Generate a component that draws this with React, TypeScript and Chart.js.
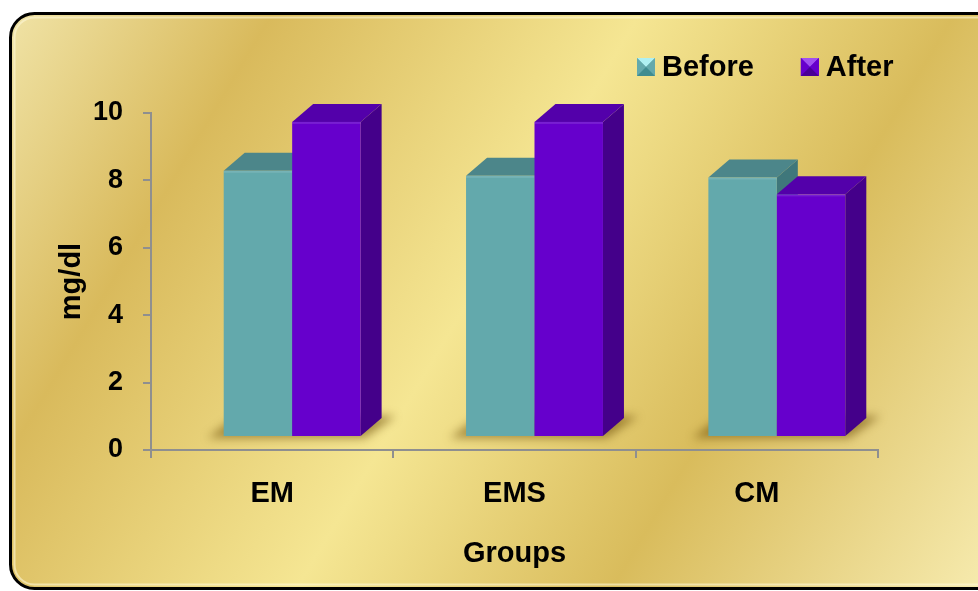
import React, { useEffect, useRef } from 'react';
import { Chart, registerables } from 'chart.js';

Chart.register(...registerables);

// ---- data ----
const categories = ['EM', 'EMS', 'CM'];
const seriesNames = ['Before', 'After'];
const beforeValues = [7.9, 7.75, 7.7];
const afterValues = [9.35, 9.35, 7.2];
const yMin = 0;
const yMax = 10;
const yStep = 2;
const xTitle = 'Groups';
const yTitle = 'mg/dl';

// ---- styles ----
const FONT = '"Liberation Sans", Arial, Helvetica, sans-serif';
const frontColors = ['#63a9ac', '#6600cc'];
const topColors = ['#4c868a', '#5300aa'];
const sideColors = ['#3f777b', '#44008a'];
const legendLight = ['#aef0f2', '#a050f0'];
const legendDark = ['#3f8c90', '#4a0096'];
const AXIS_GRAY = '#8f8f8f';
const DEPTH_X = 21;
const DEPTH_Y = -18;
const FRONT_DX = 20;
const FRONT_DY = -13;

const backgroundPlugin = {
  id: 'goldBackground',
  beforeDraw(chart: any) {
    const { ctx, width, height } = chart;
    ctx.save();
    const x0 = 10.5;
    const y0 = 13.5;
    const w = width + 30;
    const h = height - y0 - 2.5;
    const g = ctx.createLinearGradient(10, 13, width, height);
    g.addColorStop(0, '#f0e3a6');
    g.addColorStop(0.2, '#d9ba5c');
    g.addColorStop(0.48, '#f5e693');
    g.addColorStop(0.72, '#d9bc5c');
    g.addColorStop(1, '#f6eaad');
    ctx.beginPath();
    ctx.roundRect(x0, y0, w, h, 24);
    ctx.fillStyle = g;
    ctx.fill();
    ctx.lineWidth = 3;
    ctx.strokeStyle = '#000';
    ctx.stroke();
    // inner highlight
    ctx.beginPath();
    ctx.roundRect(x0 + 4, y0 + 4, w - 8, h - 8, 20);
    ctx.lineWidth = 2;
    ctx.strokeStyle = 'rgba(255,250,220,0.55)';
    ctx.stroke();
    ctx.restore();
  },
};

const bars3dPlugin = {
  id: 'bars3d',
  beforeDatasetDraw() {
    return false;
  },
  afterDatasetsDraw(chart: any) {
    const ctx = chart.ctx;
    const n = chart.data.labels.length;
    const dsCount = chart.data.datasets.length;
    // floor shadows
    ctx.save();
    ctx.filter = 'blur(5px)';
    ctx.fillStyle = 'rgba(105,75,5,0.55)';
    for (let j = 0; j < n; j++) {
      const first = chart.getDatasetMeta(0).data[j];
      const last = chart.getDatasetMeta(dsCount - 1).data[j];
      const l = first.x - first.width / 2 + FRONT_DX;
      const r = last.x + last.width / 2 + FRONT_DX;
      const b = first.base + FRONT_DY;
      ctx.beginPath();
      ctx.moveTo(l - 16, b + 2);
      ctx.lineTo(r + 4, b + 2);
      ctx.lineTo(r + DEPTH_X + 14, b + DEPTH_Y - 2);
      ctx.lineTo(l + DEPTH_X - 8, b + DEPTH_Y - 2);
      ctx.closePath();
      ctx.fill();
    }
    ctx.restore();

    ctx.save();
    for (let j = 0; j < n; j++) {
      for (let i = 0; i < dsCount; i++) {
        const el = chart.getDatasetMeta(i).data[j];
        const l = el.x - el.width / 2 + FRONT_DX;
        const r = l + el.width;
        const t = el.y + FRONT_DY;
        const b = el.base + FRONT_DY;
        // side
        ctx.beginPath();
        ctx.moveTo(r, t);
        ctx.lineTo(r + DEPTH_X, t + DEPTH_Y);
        ctx.lineTo(r + DEPTH_X, b + DEPTH_Y);
        ctx.lineTo(r, b);
        ctx.closePath();
        ctx.fillStyle = sideColors[i];
        ctx.fill();
        // top
        ctx.beginPath();
        ctx.moveTo(l, t);
        ctx.lineTo(r, t);
        ctx.lineTo(r + DEPTH_X, t + DEPTH_Y);
        ctx.lineTo(l + DEPTH_X, t + DEPTH_Y);
        ctx.closePath();
        ctx.fillStyle = topColors[i];
        ctx.fill();
        // front
        ctx.fillStyle = frontColors[i];
        ctx.fillRect(l, t, el.width, b - t);
        ctx.fillStyle = 'rgba(255,255,255,0.12)';
        ctx.fillRect(l, t, el.width, 2);
      }
    }
    ctx.restore();
  },
};

const legendPlugin = {
  id: 'customLegend',
  afterDraw(chart: any) {
    const ctx = chart.ctx;
    ctx.save();
    ctx.font = `bold 29px ${FONT}`;
    ctx.textBaseline = 'middle';
    ctx.textAlign = 'left';
    const box = 18;
    const gap = 7;
    const spacing = 47;
    const cy = 67;
    let x = 637;
    chart.data.datasets.forEach((ds: any, i: number) => {
      const bx = x;
      const by = cy - box / 2;
      const cx = bx + box / 2;
      const cyy = by + box / 2;
      const tri = (pts: number[][], color: string) => {
        ctx.beginPath();
        ctx.moveTo(pts[0][0], pts[0][1]);
        ctx.lineTo(pts[1][0], pts[1][1]);
        ctx.lineTo(pts[2][0], pts[2][1]);
        ctx.closePath();
        ctx.fillStyle = color;
        ctx.fill();
      };
      ctx.fillStyle = ds.backgroundColor;
      ctx.fillRect(bx, by, box, box);
      tri([[bx, by], [bx + box, by], [cx, cyy]], legendLight[i]);
      tri([[bx, by], [bx, by + box], [cx, cyy]], ds.backgroundColor);
      tri([[bx + box, by], [bx + box, by + box], [cx, cyy]], ds.backgroundColor);
      tri([[bx, by + box], [bx + box, by + box], [cx, cyy]], legendDark[i]);
      ctx.fillStyle = '#000';
      ctx.fillText(ds.label, bx + box + gap, cy + 1);
      x = bx + box + gap + ctx.measureText(ds.label).width + spacing;
    });
    ctx.restore();
  },
};

export default function App() {
  const canvasRef = useRef<HTMLCanvasElement | null>(null);

  useEffect(() => {
    const canvas = canvasRef.current;
    if (!canvas) return;
    const chart = new Chart(canvas, {
      type: 'bar',
      data: {
        labels: categories,
        datasets: [
          { label: seriesNames[0], data: beforeValues, backgroundColor: frontColors[0] },
          { label: seriesNames[1], data: afterValues, backgroundColor: frontColors[1] },
        ],
      },
      options: {
        responsive: false,
        animation: false,
        devicePixelRatio: 1,
        layout: { padding: { top: 113, left: 0, right: 100, bottom: 0 } },
        datasets: { bar: { barPercentage: 1, categoryPercentage: 0.565 } },
        plugins: {
          legend: { display: false },
          tooltip: { enabled: false },
        },
        scales: {
          x: {
            afterFit: (s: any) => {
              s.height = 141;
            },
            grid: {
              display: true,
              drawOnChartArea: false,
              drawTicks: true,
              tickLength: 8,
              color: AXIS_GRAY,
              lineWidth: 2,
            },
            border: { display: true, color: AXIS_GRAY, width: 2 },
            ticks: {
              color: '#000',
              font: { family: FONT, size: 29, weight: 'bold' },
              padding: 19,
            },
            title: {
              display: true,
              text: xTitle,
              color: '#000',
              font: { family: FONT, size: 29, weight: 'bold' },
              padding: { top: 0, bottom: 20 },
            },
          },
          y: {
            min: yMin,
            max: yMax,
            afterFit: (s: any) => {
              s.width = 151;
            },
            grid: {
              display: true,
              drawOnChartArea: false,
              drawTicks: true,
              tickLength: 8,
              color: AXIS_GRAY,
              lineWidth: 2,
            },
            border: { display: true, color: AXIS_GRAY, width: 2 },
            ticks: {
              stepSize: yStep,
              color: '#000',
              font: { family: FONT, size: 27, weight: 'bold' },
              padding: 20,
            },
            title: {
              display: true,
              text: yTitle,
              color: '#000',
              font: { family: FONT, size: 29, weight: 'bold' },
              padding: { top: 55, bottom: 0 },
            },
          },
        },
      },
      plugins: [backgroundPlugin, bars3dPlugin, legendPlugin],
    } as any);
    return () => chart.destroy();
  }, []);

  return (
    <div style={{ position: 'fixed', left: 0, top: 0, width: 978, height: 591, background: '#fff' }}>
      <canvas ref={canvasRef} width={978} height={591} style={{ display: 'block' }} />
    </div>
  );
}
